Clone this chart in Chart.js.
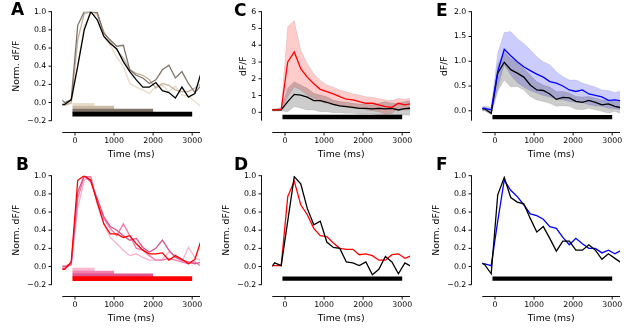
<!DOCTYPE html>
<html>
<head>
<meta charset="utf-8">
<script src="https://cdn.jsdelivr.net/npm/chart.js@4.4.1/dist/chart.umd.min.js"></script>
<style>
  body { margin: 0; background: #fff; width: 629px; height: 331px; overflow: hidden; position: relative; }
  canvas { position: absolute; }
  .lbl { position: absolute; font: bold 17px/17px 'DejaVu Sans', sans-serif; color: #000; }
</style>
</head>
<body>
<canvas id="cA" width="210" height="165" style="left:0;top:0"></canvas>
<canvas id="cC" width="210" height="165" style="left:210px;top:0"></canvas>
<canvas id="cE" width="210" height="165" style="left:420px;top:0"></canvas>
<canvas id="cB" width="210" height="165" style="left:0;top:164px"></canvas>
<canvas id="cD" width="210" height="165" style="left:210px;top:164px"></canvas>
<canvas id="cF" width="210" height="165" style="left:420px;top:164px"></canvas>
<div class="lbl" style="left:11px;top:1px">A</div>
<div class="lbl" style="left:234px;top:1.5px">C</div>
<div class="lbl" style="left:436px;top:1.5px">E</div>
<div class="lbl" style="left:16px;top:156px">B</div>
<div class="lbl" style="left:234px;top:156px">D</div>
<div class="lbl" style="left:436px;top:156px">F</div>
<script>
// frame times (ms), ~6 Hz sampling
const times = [-430, -263, -97, 70, 237, 403, 570, 737, 903, 1070, 1237, 1403, 1570, 1737, 1903, 2070, 2237, 2403, 2570, 2737, 2903, 3070, 3237];
const timeTicks = [0, 1000, 2000, 3000];
const normTicks = [-0.2, 0, 0.2, 0.4, 0.6, 0.8, 1.0];
const cTicks = [0, 1, 2, 3, 4, 5, 6];
const eTicks = [0, 0.5, 1.0, 1.5, 2.0];

// stimulus onset and durations (ms)
const stimOnset = -65;
const stimDur = [500, 1000, 2000, 3000];

// A: normalized responses, one per stimulus duration
const aDur500  = [-0.03, -0.03, -0.01, 0.40, 0.84, 0.98, 0.96, 0.72, 0.63, 0.50, 0.40, 0.21, 0.17, 0.14, 0.10, 0.18, 0.19, 0.12, 0.18, 0.08, 0.07, 0.01, -0.05];
const aDur1000 = [-0.03, -0.03, 0.00, 0.69, 0.98, 1.00, 0.98, 0.78, 0.67, 0.58, 0.49, 0.36, 0.32, 0.30, 0.25, 0.16, 0.21, 0.19, 0.14, 0.12, 0.12, 0.16, 0.21];
const aDur2000 = [0.06, 0.00, 0.03, 0.85, 1.00, 1.00, 0.99, 0.76, 0.69, 0.62, 0.63, 0.36, 0.30, 0.27, 0.21, 0.25, 0.36, 0.41, 0.27, 0.34, 0.21, 0.11, 0.19];
const aDur3000 = [-0.02, -0.02, 0.03, 0.40, 0.80, 1.00, 0.91, 0.73, 0.65, 0.59, 0.45, 0.34, 0.25, 0.17, 0.17, 0.22, 0.13, 0.11, 0.05, 0.17, 0.06, 0.10, 0.34];

// B
const bDur500  = [0.01, 0.01, 0.02, 0.64, 0.95, 0.99, 0.68, 0.47, 0.32, 0.25, 0.18, 0.12, 0.14, 0.10, 0.07, 0.07, 0.08, 0.16, 0.12, 0.05, 0.21, 0.10, 0.06];
const bDur1000 = [-0.02, -0.02, 0.02, 0.75, 0.99, 0.99, 0.70, 0.53, 0.42, 0.34, 0.47, 0.34, 0.20, 0.18, 0.12, 0.07, 0.07, 0.09, 0.07, 0.05, 0.03, 0.05, 0.00];
const bDur2000 = [0.00, 0.00, 0.03, 0.82, 1.00, 0.93, 0.75, 0.55, 0.44, 0.40, 0.34, 0.29, 0.31, 0.21, 0.16, 0.20, 0.29, 0.18, 0.10, 0.07, 0.05, 0.03, 0.05];
const bDur3000 = [-0.03, -0.03, 0.05, 0.95, 1.00, 0.95, 0.71, 0.47, 0.36, 0.36, 0.32, 0.34, 0.25, 0.18, 0.14, 0.14, 0.15, 0.07, 0.12, 0.08, 0.03, 0.08, 0.30];

// C: dF/F mean and band
const cRed      = [0.14, 0.14, 0.18, 3.00, 3.60, 2.60, 2.10, 1.70, 1.37, 1.23, 1.10, 0.93, 0.78, 0.74, 0.64, 0.54, 0.54, 0.44, 0.34, 0.30, 0.54, 0.44, 0.52];
const cRedHi    = [0.20, 0.20, 0.25, 5.10, 5.47, 3.70, 2.90, 2.30, 1.90, 1.63, 1.50, 1.33, 1.23, 1.10, 1.03, 0.93, 0.90, 0.83, 0.74, 0.70, 0.83, 0.78, 0.85];
const cRedLo    = [0.08, 0.08, 0.10, 0.93, 1.53, 1.33, 1.03, 0.83, 0.64, 0.54, 0.44, 0.38, 0.34, 0.24, 0.24, 0.14, 0.10, 0.04, -0.12, -0.06, 0.24, 0.14, 0.14];
const cBlack    = [0.14, 0.14, 0.14, 0.64, 1.07, 1.03, 0.90, 0.70, 0.70, 0.60, 0.48, 0.38, 0.34, 0.30, 0.24, 0.24, 0.20, 0.24, 0.20, 0.24, 0.14, 0.22, 0.25];
const cBlackHi  = [0.20, 0.20, 0.24, 1.43, 1.83, 1.63, 1.43, 1.13, 1.03, 0.93, 0.74, 0.64, 0.60, 0.54, 0.50, 0.50, 0.44, 0.54, 0.64, 0.54, 0.54, 0.64, 0.70];
const cBlackLo  = [0.08, 0.08, 0.08, 0.04, 0.34, 0.24, 0.14, 0.14, 0.04, 0.04, -0.02, -0.02, -0.06, -0.06, -0.10, -0.10, -0.10, -0.16, -0.14, -0.16, -0.16, -0.16, -0.18];

// D: normalized
const dRed   = [0.01, 0.01, 0.01, 0.77, 0.94, 0.68, 0.57, 0.42, 0.34, 0.33, 0.26, 0.20, 0.19, 0.19, 0.13, 0.14, 0.12, 0.07, 0.07, 0.13, 0.14, 0.09, 0.12];
const dBlack = [-0.05, 0.04, 0.01, 0.50, 0.99, 0.91, 0.64, 0.46, 0.50, 0.27, 0.21, 0.20, 0.05, 0.04, 0.01, 0.05, -0.09, -0.03, 0.11, 0.05, -0.08, 0.04, 0.00];

// E: dF/F mean and band
const eBlue     = [0.05, 0.05, 0.02, 0.79, 1.24, 1.11, 0.99, 0.89, 0.81, 0.74, 0.68, 0.59, 0.56, 0.50, 0.42, 0.39, 0.42, 0.34, 0.31, 0.28, 0.21, 0.22, 0.20];
const eBlueHi   = [0.09, 0.09, 0.07, 1.16, 1.58, 1.60, 1.46, 1.36, 1.23, 1.09, 0.99, 0.93, 0.79, 0.69, 0.62, 0.62, 0.56, 0.52, 0.48, 0.42, 0.41, 0.37, 0.40];
const eBlueLo   = [0.00, 0.00, -0.05, 0.46, 0.93, 0.72, 0.57, 0.48, 0.41, 0.36, 0.31, 0.28, 0.23, 0.22, 0.19, 0.17, 0.17, 0.12, 0.10, 0.09, 0.05, 0.04, 0.02];
const eBlack    = [0.04, 0.04, -0.05, 0.76, 0.98, 0.83, 0.76, 0.68, 0.52, 0.42, 0.41, 0.34, 0.23, 0.27, 0.26, 0.19, 0.17, 0.21, 0.17, 0.12, 0.14, 0.09, 0.06];
const eBlackHi  = [0.07, 0.07, 0.00, 0.93, 1.19, 1.06, 0.97, 0.86, 0.72, 0.59, 0.52, 0.48, 0.39, 0.39, 0.36, 0.29, 0.28, 0.29, 0.26, 0.22, 0.21, 0.19, 0.19];
const eBlackLo  = [0.00, 0.00, -0.08, 0.39, 0.62, 0.48, 0.49, 0.42, 0.29, 0.22, 0.19, 0.15, 0.09, 0.10, 0.09, 0.03, 0.02, 0.05, 0.02, -0.01, -0.05, -0.01, -0.06];

// F: normalized
const fBlue  = [0.04, 0.03, 0.01, 0.50, 0.95, 0.84, 0.77, 0.68, 0.58, 0.56, 0.52, 0.44, 0.42, 0.32, 0.24, 0.31, 0.25, 0.20, 0.20, 0.15, 0.18, 0.14, 0.18];
const fBlack = [0.06, 0.02, -0.08, 0.79, 0.98, 0.76, 0.71, 0.69, 0.53, 0.38, 0.44, 0.31, 0.17, 0.28, 0.28, 0.18, 0.18, 0.24, 0.18, 0.08, 0.14, 0.09, 0.04];

Chart.defaults.font.family = "'DejaVu Sans', sans-serif";
Chart.defaults.color = '#000';

const pts = vals => times.map((t, i) => ({ x: t, y: vals[i] }));

function line(vals, color, w) {
  return { data: pts(vals), borderColor: color, borderWidth: w || 1.3, fill: false };
}
function band(hi, lo, fillColor) {
  // upper edge fills down to the lower edge (next dataset)
  return [
    { data: pts(hi), borderColor: 'rgba(0,0,0,0.12)', borderWidth: 0.8, backgroundColor: fillColor, fill: '+1' },
    { data: pts(lo), borderColor: 'rgba(0,0,0,0.12)', borderWidth: 0.8, fill: false }
  ];
}
function bar(dur, level, color, w) {
  return { data: [{ x: stimOnset, y: level }, { x: dur, y: level }], borderColor: color, borderWidth: w, borderCapStyle: 'butt', fill: false };
}

// offset spines with outward ticks, like matplotlib
const spines = {
  id: 'spines',
  afterDraw(chart) {
    const { ctx, chartArea: a, scales: { x, y } } = chart;
    ctx.save();
    ctx.strokeStyle = '#111';
    ctx.lineWidth = 1;
    ctx.beginPath();
    const sx = 51.5;
    ctx.moveTo(sx, a.top); ctx.lineTo(sx, a.bottom);
    y.ticks.forEach(t => { const py = y.getPixelForValue(t.value); ctx.moveTo(sx + 0.5, py); ctx.lineTo(sx - 3, py); });
    const sy = 132.5;
    ctx.moveTo(a.left, sy); ctx.lineTo(a.right, sy);
    x.ticks.forEach(t => { const px = x.getPixelForValue(t.value); ctx.moveTo(px, sy - 0.5); ctx.lineTo(px, sy + 3); });
    ctx.stroke();
    ctx.restore();
  }
};

const fmt1 = v => v.toFixed(1).replace('-', '\u2212');

function panel(id, datasets, yMin, yMax, yTicks, yFmt, yTitle, yTitlePad) {
  return new Chart(document.getElementById(id), {
    type: 'line',
    data: { datasets },
    options: {
      responsive: false,
      animation: false,
      events: [],
      layout: { padding: { top: 11.7, right: 10, left: 0, bottom: 0 } },
      elements: { point: { radius: 0 }, line: { tension: 0 } },
      plugins: { legend: { display: false }, tooltip: { enabled: false } },
      scales: {
        x: {
          type: 'linear', min: -325, max: 3200,
          afterBuildTicks: s => { s.ticks = timeTicks.map(v => ({ value: v })); },
          afterFit: s => { s.height = 44.3; s.paddingLeft = 0; s.paddingRight = 0; },
          grid: { display: false, drawTicks: false },
          border: { display: false },
          ticks: { font: { size: 7.8 }, padding: 15.6, maxRotation: 0, autoSkip: false, callback: v => String(v) },
          title: { display: true, text: 'Time (ms)', font: { size: 9.3 }, padding: { top: 0, bottom: 5 } }
        },
        y: {
          type: 'linear', min: yMin, max: yMax,
          afterBuildTicks: s => { s.ticks = yTicks.map(v => ({ value: v })); },
          afterFit: s => { s.width = 62.3; s.paddingTop = 0; s.paddingBottom = 0; },
          grid: { display: false, drawTicks: false },
          border: { display: false },
          ticks: { font: { size: 7.8 }, padding: 16, autoSkip: false, callback: yFmt },
          title: { display: true, text: yTitle, font: { size: 9.3 }, padding: { top: yTitlePad, bottom: 0 } }
        }
      }
    },
    plugins: [spines]
  });
}

// A
panel('cA', [
  line(aDur3000, '#000000'),
  line(aDur2000, '#807468'),
  line(aDur1000, '#c2b29e'),
  line(aDur500, '#ead9c5'),
  bar(stimDur[3], -0.128, '#000000', 4.7),
  bar(stimDur[2], -0.088, '#807468', 3.8),
  bar(stimDur[1], -0.053, '#cbbba6', 3.2),
  bar(stimDur[0], -0.024, '#e9dccb', 3.2)
], -0.2, 1.0, normTicks, fmt1, 'Norm. dF/F', 11.1);

// B
panel('cB', [
  line(bDur3000, '#ff0000'),
  line(bDur2000, '#dc4f8c'),
  line(bDur1000, '#f27aaa'),
  line(bDur500, '#f8b4cb'),
  bar(stimDur[3], -0.134, '#ff0000', 4.7),
  bar(stimDur[2], -0.097, '#e0558f', 3.6),
  bar(stimDur[1], -0.064, '#f27fad', 3.2),
  bar(stimDur[0], -0.032, '#f9b6cd', 3.2)
], -0.2, 1.0, normTicks, fmt1, 'Norm. dF/F', 11.1);

// C
panel('cC', [
  bar(stimDur[3], -0.28, '#000000', 4.3),
  line(cRed, '#ff0000'),
  line(cBlack, '#000000'),
  ...band(cBlackHi, cBlackLo, 'rgba(0,0,0,0.2)'),
  ...band(cRedHi, cRedLo, 'rgba(255,0,0,0.2)')
], -0.5, 6, cTicks, v => String(v), 'dF/F', 27.7);

// D
panel('cD', [
  bar(stimDur[3], -0.133, '#000000', 4.3),
  line(dBlack, '#000000'),
  line(dRed, '#ff0000')
], -0.2, 1.0, normTicks, fmt1, 'Norm. dF/F', 11.1);

// E
panel('cE', [
  bar(stimDur[3], -0.127, '#000000', 4.3),
  line(eBlue, '#0000ff'),
  line(eBlack, '#000000'),
  ...band(eBlackHi, eBlackLo, 'rgba(0,0,0,0.2)'),
  ...band(eBlueHi, eBlueLo, 'rgba(0,0,255,0.2)')
], -0.2, 2.0, eTicks, fmt1, 'dF/F', 19.4);

// F
panel('cF', [
  bar(stimDur[3], -0.133, '#000000', 4.3),
  line(fBlack, '#000000'),
  line(fBlue, '#0000ff')
], -0.2, 1.0, normTicks, fmt1, 'Norm. dF/F', 11.1);
</script>
</body>
</html>
